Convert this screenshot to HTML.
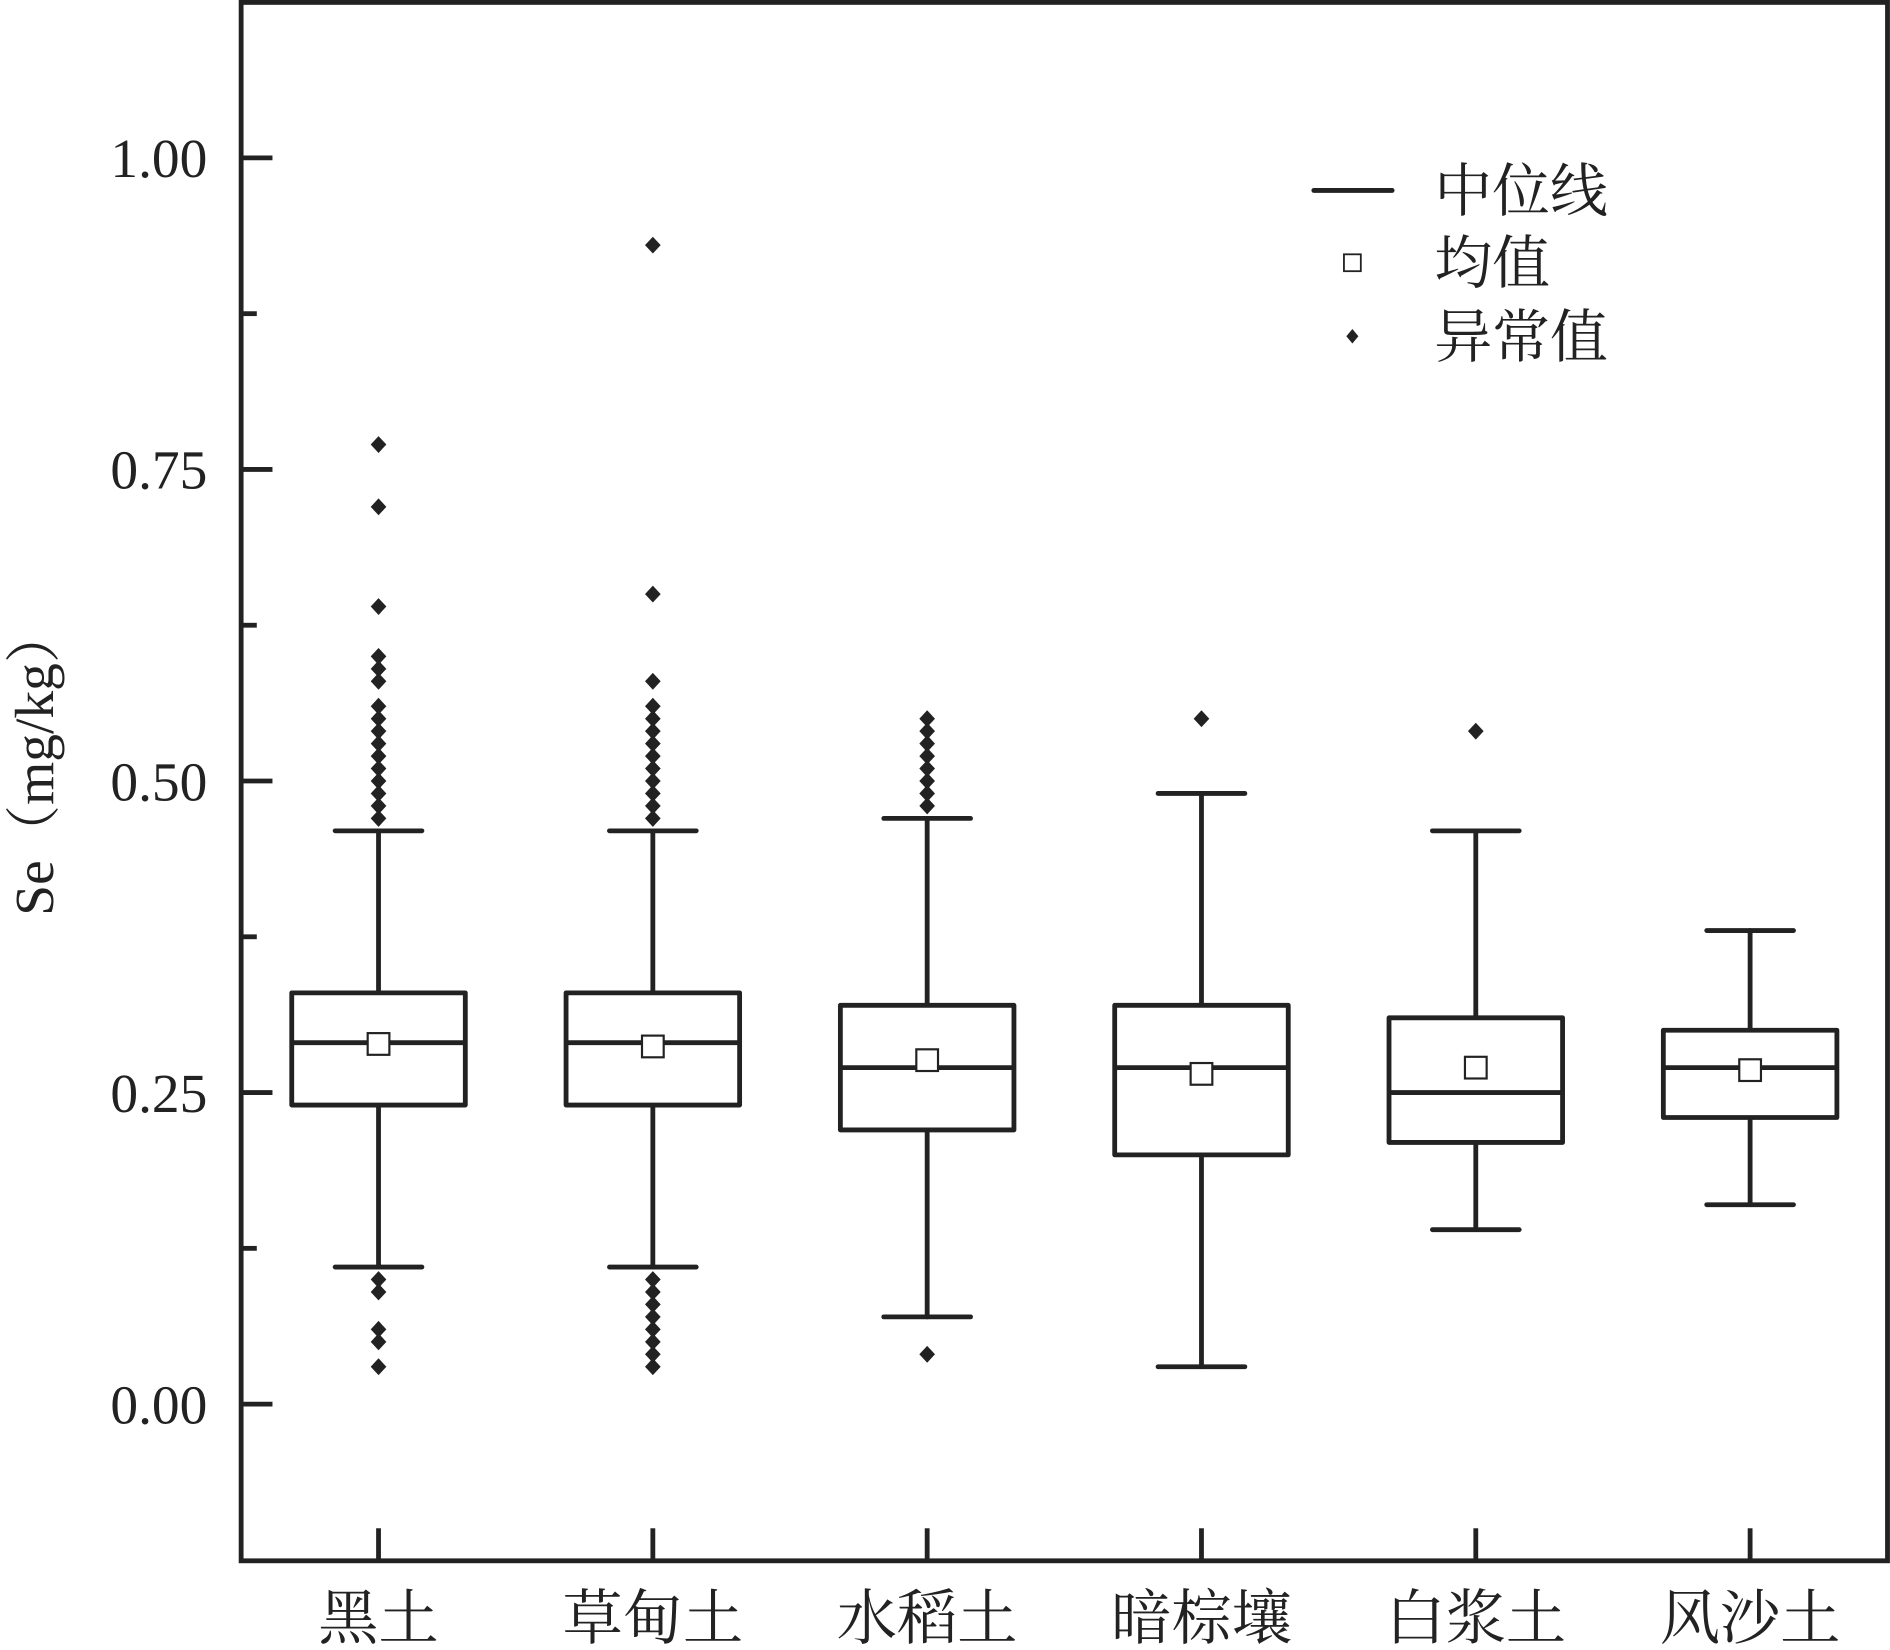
<!DOCTYPE html>
<html><head><meta charset="utf-8"><style>
html,body{margin:0;padding:0;background:#fff;}
svg{display:block;}
text{fill:#222;}
</style></head><body>
<svg id="chart" width="1890" height="1650" viewBox="0 0 1568 1369" xmlns="http://www.w3.org/2000/svg">
<g id="axes"></g>
<g id="plot"></g>
<g>
  <line x1="1090" y1="158" x2="1155" y2="158" stroke="#222" stroke-width="4" stroke-linecap="round"/>
  <text x="1190" y="175" font-size="48" font-family="'Noto Serif CJK SC','Noto Sans CJK SC',serif">中位线</text>
  <rect x="1115" y="211" width="14" height="14" fill="#fff" stroke="#222" stroke-width="1.5"/>
  <text x="1190" y="235" font-size="48" font-family="'Noto Serif CJK SC','Noto Sans CJK SC',serif">均值</text>
  <path d="M1122 273 L1127 279 L1122 285 L1117 279 Z" fill="#222"/>
  <text x="1190" y="296" font-size="48" font-family="'Noto Serif CJK SC','Noto Sans CJK SC',serif">异常值</text>
</g>
<text transform="translate(44,632) rotate(-90)" text-anchor="middle" font-size="46" font-family="'Liberation Serif','Noto Serif CJK SC',serif">Se（mg/kg）</text>
</svg>
<script>
const categories = ["黑土","草甸土","水稻土","暗棕壤","白浆土","风沙土"];
const whiskerLow = [0.11,0.11,0.07,0.03,0.14,0.16];
const q1 = [0.24,0.24,0.22,0.20,0.21,0.23];
const median = [0.29,0.29,0.27,0.27,0.25,0.27];
const q3 = [0.33,0.33,0.32,0.32,0.31,0.30];
const whiskerHigh = [0.46,0.46,0.47,0.49,0.46,0.38];
const means = [0.289,0.287,0.276,0.265,0.27,0.268];
const outliers = [
  [0.77,0.72,0.64,0.60,0.59,0.58,0.56,0.55,0.54,0.53,0.52,0.51,0.50,0.49,0.48,0.47,0.10,0.09,0.06,0.05,0.03],
  [0.93,0.65,0.58,0.56,0.55,0.54,0.53,0.52,0.51,0.50,0.49,0.48,0.47,0.10,0.09,0.08,0.07,0.06,0.05,0.04,0.03],
  [0.55,0.54,0.53,0.52,0.51,0.50,0.49,0.48,0.04],
  [0.55],
  [0.54],
  []
];
const yTicks = [0.00,0.25,0.50,0.75,1.00];
const yTickLabels = ["0.00","0.25","0.50","0.75","1.00"];
const yMinorTicks = [0.125,0.375,0.625,0.875];

const NS="http://www.w3.org/2000/svg";
const L=200,R=1566,T=2,B=1295;
function y(v){return 1165-1034*v;}
function x(i){return 314+i*227.6;}
function mk(tag,attrs,parent){const e=document.createElementNS(NS,tag);for(const k in attrs)e.setAttribute(k,attrs[k]);parent.appendChild(e);return e;}
const axes=document.getElementById('axes'), plot=document.getElementById('plot');
let f=mk('rect',{x:L,y:T,width:R-L,height:B-T,fill:'none',stroke:'#222','stroke-width':4},axes);


yTicks.forEach((v,i)=>{
  let t=mk('line',{x1:L,x2:L+26,y1:y(v),y2:y(v),stroke:'#222','stroke-width':4},axes);
  
  
  let tx=mk('text',{x:172,y:y(v)+16,'text-anchor':'end','font-size':46,'font-family':"'Liberation Serif',serif"},axes);
  tx.textContent=yTickLabels[i];
  
  
});
yMinorTicks.forEach(v=>{
  let t=mk('line',{x1:L,x2:L+13,y1:y(v),y2:y(v),stroke:'#222','stroke-width':4},axes);
  
  
});
categories.forEach((c,i)=>{
  const cx=x(i);
  let t=mk('line',{x1:cx,x2:cx,y1:B,y2:B-27,stroke:'#222','stroke-width':4},axes);
  
  
  let tx=mk('text',{x:cx,y:1360,'text-anchor':'middle','font-size':50,'font-family':"'Noto Serif CJK SC','Noto Sans CJK SC',serif"},axes);
  tx.textContent=c;
  
  
  const g=mk('g',{},plot);
  
  
  const st={stroke:'#222','stroke-width':4,'stroke-linecap':'round'};
  let w1=mk('line',Object.assign({x1:cx,x2:cx,y1:y(q1[i]),y2:y(whiskerLow[i])},st),g);
  
  
  let w2=mk('line',Object.assign({x1:cx,x2:cx,y1:y(q3[i]),y2:y(whiskerHigh[i])},st),g);
  
  
  let c1=mk('line',Object.assign({x1:cx-36,x2:cx+36,y1:y(whiskerLow[i]),y2:y(whiskerLow[i])},st),g);
  
  
  let c2=mk('line',Object.assign({x1:cx-36,x2:cx+36,y1:y(whiskerHigh[i]),y2:y(whiskerHigh[i])},st),g);
  
  
  let r=mk('rect',{x:cx-72,y:y(q3[i]),width:144,height:y(q1[i])-y(q3[i]),fill:'#fff',stroke:'#222','stroke-width':4,'stroke-linejoin':'round'},g);
  
  
  let m=mk('line',{x1:cx-72,x2:cx+72,y1:y(median[i]),y2:y(median[i]),stroke:'#222','stroke-width':4},g);
  
  
  let mn=mk('rect',{x:cx-9,y:y(means[i])-9,width:18,height:18,fill:'#fff',stroke:'#222','stroke-width':1.8},g);
  
  
  outliers[i].forEach(v=>{
    const yy=y(v);
    let d=mk('path',{d:`M${cx} ${yy-7} L${cx+6.5} ${yy} L${cx} ${yy+7} L${cx-6.5} ${yy} Z`,fill:'#222'},g);
    
    
  });
});
</script>
</body></html>
